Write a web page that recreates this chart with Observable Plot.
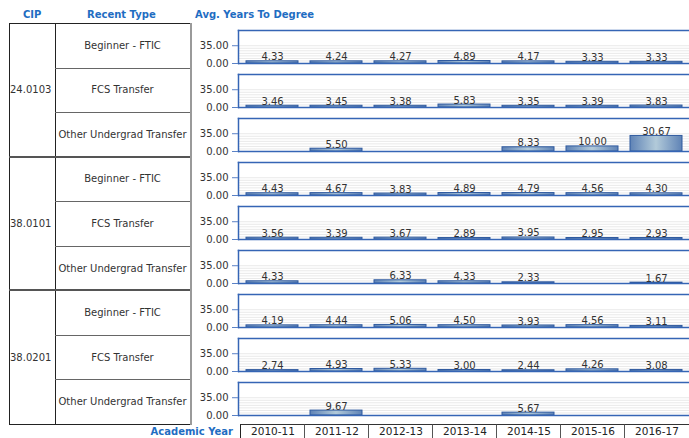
<!DOCTYPE html>
<html>
<head>
<meta charset="utf-8">
<script src="https://cdn.jsdelivr.net/npm/d3@7"></script>
<script src="https://cdn.jsdelivr.net/npm/@observablehq/plot@0.6"></script>
<style>
  body { margin: 0; background: #fff; font-family: "DejaVu Sans", Verdana, sans-serif; }
  #wrap { position: relative; width: 689px; height: 438px; overflow: hidden; background: #fff; }
  .hdr { position: absolute; font-weight: bold; font-size: 10px; color: #1f6dc2; line-height: 12px; white-space: nowrap; }
  .cell { position: absolute; display: flex; align-items: center; font-size: 10px; color: #333; white-space: nowrap; box-sizing: border-box; }
  .ln { position: absolute; }
  .yr { position: absolute; box-sizing: border-box; border-top: 1px solid #333; border-left: 1px solid #555; font-size: 10.5px; color: #222; text-align: center; line-height: 13px; white-space: nowrap; }
  #chart { position: absolute; left: 190px; top: 23px; }
</style>
</head>
<body>
<div id="wrap"></div>
<script>
// ---- data ----
const years = ["2010-11", "2011-12", "2012-13", "2013-14", "2014-15", "2015-16", "2016-17"];
const cips = ["24.0103", "38.0101", "38.0201"];
const types = ["Beginner - FTIC", "FCS Transfer", "Other Undergrad Transfer"];
const headers = ["CIP", "Recent Type", "Avg. Years To Degree"];
const xTitle = "Academic Year";
const yTicks = [0, 35];
const gridTicks = [5, 10, 15, 20, 25, 30, 35];

const v24_0103_ftic  = [4.33, 4.24, 4.27, 4.89, 4.17, 3.33, 3.33];
const v24_0103_fcs   = [3.46, 3.45, 3.38, 5.83, 3.35, 3.39, 3.83];
const v24_0103_other = [null, 5.50, null, null, 8.33, 10.00, 30.67];
const v38_0101_ftic  = [4.43, 4.67, 3.83, 4.89, 4.79, 4.56, 4.30];
const v38_0101_fcs   = [3.56, 3.39, 3.67, 2.89, 3.95, 2.95, 2.93];
const v38_0101_other = [4.33, null, 6.33, 4.33, 2.33, null, 1.67];
const v38_0201_ftic  = [4.19, 4.44, 5.06, 4.50, 3.93, 4.56, 3.11];
const v38_0201_fcs   = [2.74, 4.93, 5.33, 3.00, 2.44, 4.26, 3.08];
const v38_0201_other = [null, 9.67, null, null, 5.67, null, null];

const series = [
  [v24_0103_ftic, v24_0103_fcs, v24_0103_other],
  [v38_0101_ftic, v38_0101_fcs, v38_0101_other],
  [v38_0201_ftic, v38_0201_fcs, v38_0201_other]
];

const rows = [];
const data = [];
cips.forEach((c, ci) => types.forEach((t, ti) => {
  const key = c + "|" + t;
  rows.push(key);
  series[ci][ti].forEach((v, yi) => {
    if (v != null) data.push({row: key, year: years[yi], value: v});
  });
}));

// ---- layout ----
const wrap = document.getElementById("wrap");
function add(cls, style, text) {
  const d = document.createElement("div");
  d.className = cls;
  Object.assign(d.style, style);
  if (text != null) d.textContent = text;
  wrap.appendChild(d);
  return d;
}

add("hdr", {left: "23px", top: "9px"}, headers[0]);
add("hdr", {left: "87px", top: "9px"}, headers[1]);
add("hdr", {left: "195px", top: "9px"}, headers[2]);

const tTop = 23, tBot = 424, rowH = (tBot - tTop) / 9;
const xL = 9, xMid = 55, xR = 190;

// table cells
cips.forEach((c, ci) => {
  add("cell", {left: (xL + 1) + "px", top: (tTop + ci * 3 * rowH) + "px", width: (xMid - xL - 1) + "px", height: (3 * rowH) + "px"}, c);
  types.forEach((t, ti) => {
    const r = ci * 3 + ti;
    add("cell", {left: xMid + "px", top: (tTop + r * rowH) + "px", width: (xR - xMid) + "px", height: rowH + "px", justifyContent: "center"}, t);
  });
});
// table lines
add("ln", {left: xL + "px", top: tTop + "px", width: (xR - xL) + "px", height: "1px", background: "#222"});
add("ln", {left: xL + "px", top: tTop + "px", width: "1px", height: (tBot - tTop) + "px", background: "#222"});
add("ln", {left: xMid + "px", top: tTop + "px", width: "1px", height: (tBot - tTop) + "px", background: "#222"});
add("ln", {left: xR + "px", top: tTop + "px", width: "2px", height: (tBot - tTop + 1) + "px", background: "#9a9a9a"});
for (let k = 1; k <= 9; k++) {
  const y = Math.round(tTop + k * rowH);
  if (k % 3 === 0) {
    add("ln", {left: xL + "px", top: (y - (k === 9 ? 0 : 1)) + "px", width: (xR - xL) + "px", height: (k === 9 ? 1 : 2) + "px", background: k === 9 ? "#222" : "#555"});
  } else {
    add("ln", {left: xMid + "px", top: y + "px", width: (xR - xMid) + "px", height: "1px", background: "#666"});
  }
}

// ---- chart ----
const blue = "#3565b5";
const plot = Plot.plot({
  width: 499,
  height: 401,
  marginLeft: 48,
  marginRight: 0,
  marginTop: 5,
  marginBottom: 8,
  style: {fontFamily: "DejaVu Sans, Verdana, sans-serif", fontSize: "10px", background: "transparent", overflow: "visible"},
  x: {domain: years, paddingInner: 0, paddingOuter: 0, axis: null},
  y: {domain: [0, 65], label: null},
  fy: {domain: rows, paddingInner: 0.25, paddingOuter: 0, axis: null},
  marks: [
    Plot.ruleY(gridTicks, {stroke: "#e9e9e9", strokeWidth: 1}),
    Plot.frame({anchor: "top", stroke: blue, strokeWidth: 1.5}),
    Plot.frame({anchor: "left", stroke: blue, strokeWidth: 1.5}),
    Plot.barY(data, {x: "year", y: "value", fy: "row", fill: "url(#barGrad)", stroke: "#2f5a9f", strokeWidth: 1, insetLeft: 6, insetRight: 6}),
    Plot.ruleY([0], {stroke: blue, strokeWidth: 1.5}),
    Plot.axisY({ticks: yTicks, tickFormat: d => d.toFixed(2), tickSize: 6, tickPadding: 4, stroke: "#5b82c6", fill: "#333", fontSize: 10, label: null}),
    Plot.text(data, {x: "year", y: "value", fy: "row", text: d => d.value.toFixed(2), lineAnchor: "bottom", dy: -1, fill: "#333", fontSize: 10})
  ]
});
plot.id = "chart";
const ns = "http://www.w3.org/2000/svg";
const defs = document.createElementNS(ns, "defs");
defs.innerHTML = '<linearGradient id="barGrad" x1="0" y1="0" x2="1" y2="0">' +
  '<stop offset="0" stop-color="#5f83b6"/>' +
  '<stop offset="0.5" stop-color="#b2cad9"/>' +
  '<stop offset="1" stop-color="#5f83b6"/></linearGradient>';
plot.insertBefore(defs, plot.firstChild);
wrap.appendChild(plot);

// ---- bottom axis (category boxes from the x scale) ----
const xs = plot.scale("x");
add("hdr", {left: "0px", width: "233px", textAlign: "right", top: "426px"}, xTitle);
years.forEach((y, i) => {
  const left = 190 + xs.apply(y);
  const st = {left: left + "px", top: tBot + "px", width: (xs.bandwidth + 1) + "px", height: "16px"};
  if (i === 0) st.borderLeft = "1px solid #222";
  add("yr", st, y);
});
</script>
</body>
</html>
